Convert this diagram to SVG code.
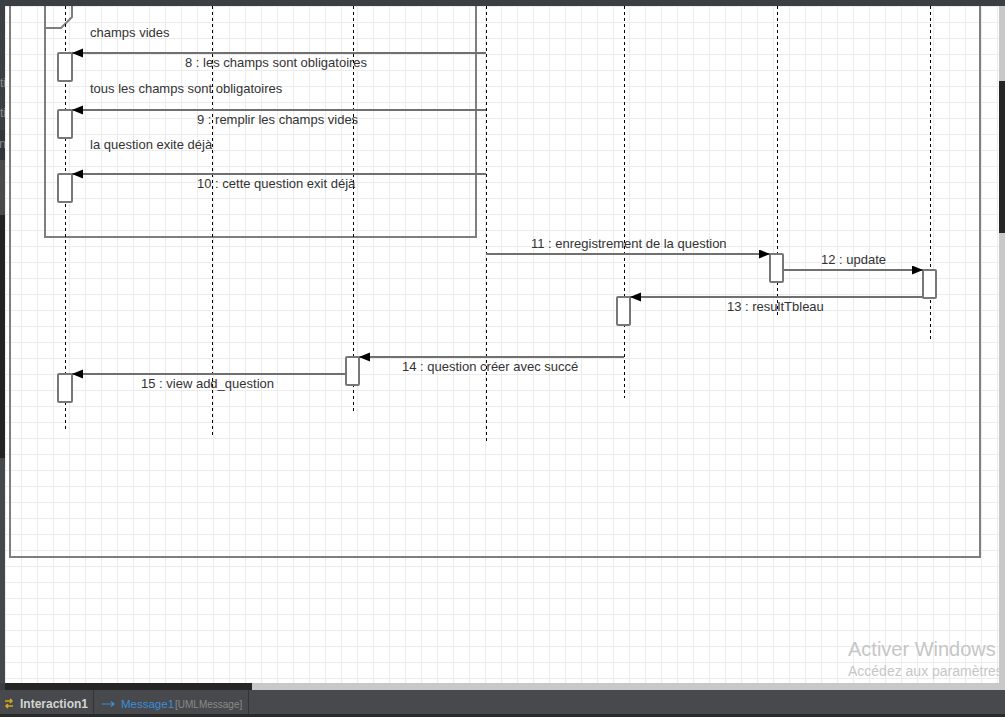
<svg xmlns="http://www.w3.org/2000/svg" width="1005" height="717" viewBox="0 0 1005 717">
  <style>
    .lbl { font-family: "Liberation Sans", Arial, sans-serif; font-size: 13px; fill: #333333; }
    .life { stroke: #000000; stroke-width: 1; stroke-dasharray: 3 3; fill: none; }
    .act { fill: #ffffff; stroke: #777777; stroke-width: 2; }
    .msg { stroke: #707070; stroke-width: 2; fill: none; marker-end: url(#head); }
    .frame { fill: none; stroke: #7f7f7f; stroke-width: 2; }
    .ui { font-family: "Liberation Sans", Arial, sans-serif; }
  </style>
  <defs>
    <pattern id="grid" patternUnits="userSpaceOnUse" x="21" y="22" width="16" height="16">
      <rect x="0" y="0" width="16" height="16" fill="#ffffff"/>
      <rect x="0" y="0" width="1" height="16" fill="#ececec"/>
      <rect x="0" y="0" width="16" height="1" fill="#ececec"/>
    </pattern>
    <marker id="head" markerUnits="userSpaceOnUse" markerWidth="12" markerHeight="10" refX="11" refY="4.5" orient="auto">
      <path d="M0,0 L11,4.5 L0,9 Z" fill="#000000"/>
    </marker>
    <clipPath id="canvasClip">
      <rect x="5" y="6" width="994" height="677"/>
    </clipPath>
    <clipPath id="sideClip">
      <rect x="0" y="0" width="5" height="717"/>
    </clipPath>
  </defs>

  <!-- editor chrome -->
  <rect x="0" y="0" width="1005" height="717" fill="#3a3f44"/>
  <rect x="0" y="130" width="5" height="30" fill="#30363b"/>
  <rect x="0" y="160" width="5" height="55" fill="#4a4a4a"/>
  <rect x="0" y="215" width="5" height="243" fill="#232323"/>
  <rect x="0" y="458" width="5" height="225" fill="#45484b"/>
  <g clip-path="url(#sideClip)" class="ui" font-size="12" fill="#8a8a8a">
    <text x="6" y="87" text-anchor="end">ti</text>
    <text x="6" y="117" text-anchor="end">ti</text>
    <text x="6" y="148" text-anchor="end">n</text>
  </g>

  <!-- drawing canvas with grid -->
  <rect x="5" y="6" width="994" height="677" fill="url(#grid)"/>

  <g clip-path="url(#canvasClip)">
    <!-- interaction frame -->
    <g id="interaction-frame">
      <rect class="frame" x="10" y="-20" width="970" height="577"/>
    </g>

    <!-- combined fragment -->
    <g id="fragment">
      <rect class="frame" x="45" y="-20" width="431" height="257"/>
      <path class="frame" d="M45,28 L61,28 L72,17 L72,0"/>
      <text class="lbl" x="90" y="37">champs vides</text>
      <text class="lbl" x="90" y="93">tous les champs sont obligatoires</text>
      <text class="lbl" x="90" y="149">la question exite déjà</text>
    </g>

    <!-- lifelines -->
    <g id="lifeline-1">
      <line class="life" x1="65.5" y1="0" x2="65.5" y2="430"/>
      <rect class="act" x="58" y="53" width="14" height="28" rx="1"/>
      <rect class="act" x="58" y="110" width="14" height="28" rx="1"/>
      <rect class="act" x="58" y="174" width="14" height="28" rx="1"/>
      <rect class="act" x="58" y="374" width="14" height="28" rx="1"/>
    </g>
    <g id="lifeline-2">
      <line class="life" x1="212.5" y1="0" x2="212.5" y2="437"/>
    </g>
    <g id="lifeline-3">
      <line class="life" x1="353.5" y1="0" x2="353.5" y2="413"/>
      <rect class="act" x="346" y="357" width="13" height="28" rx="1"/>
    </g>
    <g id="lifeline-4">
      <line class="life" x1="486.5" y1="0" x2="486.5" y2="442"/>
    </g>
    <g id="lifeline-5">
      <line class="life" x1="624.5" y1="0" x2="624.5" y2="398"/>
      <rect class="act" x="617" y="297" width="13" height="28" rx="1"/>
    </g>
    <g id="lifeline-6">
      <line class="life" x1="777.5" y1="0" x2="777.5" y2="318"/>
      <rect class="act" x="770" y="254" width="13" height="28" rx="1"/>
    </g>
    <g id="lifeline-7">
      <line class="life" x1="930.5" y1="0" x2="930.5" y2="339"/>
      <rect class="act" x="923" y="270" width="13" height="28" rx="1"/>
    </g>

    <!-- messages -->
    <g id="messages">
      <line class="msg" x1="486" y1="53" x2="72" y2="53"/>
      <text class="lbl" x="185" y="67">8 : les champs sont obligatoires</text>

      <line class="msg" x1="486" y1="110" x2="72" y2="110"/>
      <text class="lbl" x="197" y="124">9 : remplir les champs vides</text>

      <line class="msg" x1="486" y1="174" x2="72" y2="174"/>
      <text class="lbl" x="197" y="188">10 : cette question exit déjà</text>

      <line class="msg" x1="486" y1="254" x2="770" y2="254"/>
      <text class="lbl" x="531" y="248">11 : enregistrement de la question</text>

      <line class="msg" x1="783" y1="270" x2="923" y2="270"/>
      <text class="lbl" x="821" y="264">12 : update</text>

      <line class="msg" x1="923" y1="297" x2="630" y2="297"/>
      <text class="lbl" x="727" y="311">13 : resultTbleau</text>

      <line class="msg" x1="624" y1="357" x2="359" y2="357"/>
      <text class="lbl" x="402" y="371">14 : question créer avec succé</text>

      <line class="msg" x1="346" y1="374" x2="72" y2="374"/>
      <text class="lbl" x="141" y="388">15 : view add_question</text>
    </g>

    <!-- OS activation watermark -->
    <g id="watermark" class="ui">
      <text x="848" y="656" font-size="20" fill="#c6c6c6">Activer Windows</text>
      <text x="848" y="676" font-size="14" fill="#c6c6c6">Accédez aux paramètres</text>
    </g>
  </g>

  <!-- scrollbars -->
  <rect x="999" y="6" width="6" height="677" fill="#c8c8c8"/>
  <rect x="999" y="81" width="6" height="152" fill="#262626"/>
  <rect x="5" y="683" width="1000" height="7" fill="#c8c8c8"/>
  <rect x="5" y="683" width="247" height="7" fill="#262626"/>
  <rect x="0" y="683" width="5" height="7" fill="#3a3f44"/>

  <!-- status bar -->
  <g id="status-bar" class="ui">
    <rect x="0" y="690" width="1005" height="24" fill="#47494c"/>
    <rect x="0" y="714" width="1005" height="3" fill="#2a2a2a"/>
    <rect x="93" y="690" width="1" height="24" fill="#333538"/>
    <rect x="248" y="690" width="1" height="24" fill="#333538"/>
    <path d="M5,701 L12,701 M10,699 L12,701 L10,703 M13,706 L6,706 M8,704 L6,706 L8,708" stroke="#d9a520" stroke-width="1.5" fill="none"/>
    <text x="20" y="708" font-size="12" font-weight="bold" fill="#d4d4d4">Interaction1</text>
    <path d="M102,704 L114,704 M111,701.5 L114,704 L111,706.5" stroke="#3a8fd9" stroke-width="1.2" fill="none"/>
    <text x="121" y="708" font-size="11.5" fill="#3a8fd9">Message1</text>
    <text x="175" y="708" font-size="10" fill="#8a8a8a">[UMLMessage]</text>
  </g>
</svg>
